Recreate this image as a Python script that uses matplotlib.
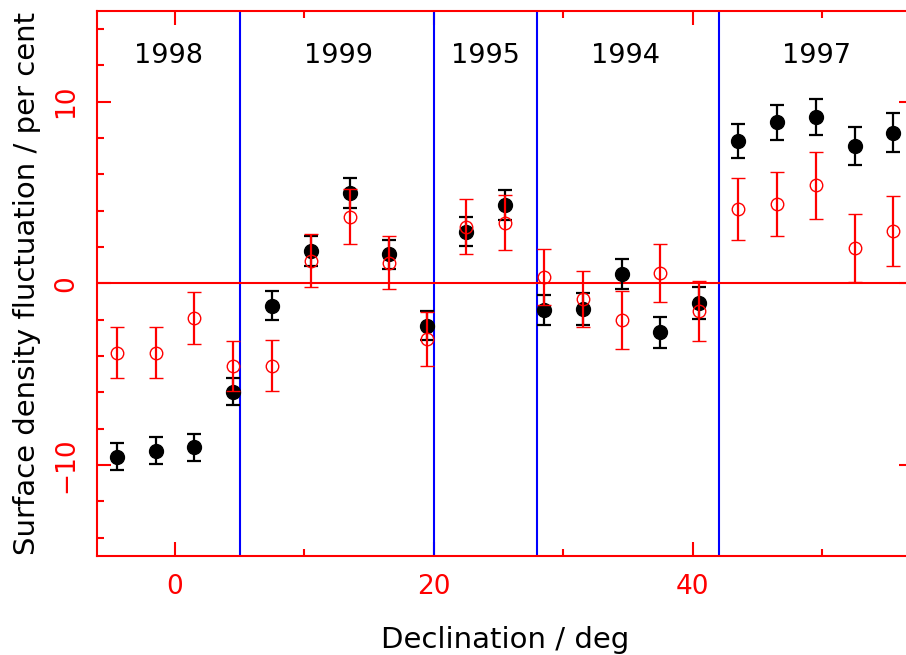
import matplotlib
matplotlib.use('Agg')
import matplotlib.pyplot as plt
from matplotlib.ticker import MultipleLocator

plt.rcParams['font.family'] = ['DejaVu Sans']

# declination bin centres
dec = [-4.5, -1.5, 1.5, 4.5, 7.5, 10.5, 13.5, 16.5, 19.5, 22.5, 25.5,
       28.5, 31.5, 34.5, 37.5, 40.5, 43.5, 46.5, 49.5, 52.5, 55.5]

# filled black points
black_val = [-9.54, -9.21, -9.04, -5.98, -1.23, 1.80, 4.96, 1.60, -2.33, 2.84, 4.31,
             -1.47, -1.43, 0.51, -2.70, -1.07, 7.84, 8.87, 9.14, 7.58, 8.29]
black_err = [0.75, 0.74, 0.74, 0.74, 0.78, 0.83, 0.81, 0.80, 0.80, 0.81, 0.83,
             0.83, 0.89, 0.85, 0.85, 0.89, 0.95, 0.96, 1.00, 1.04, 1.08]

# open red points
red_val = [-3.83, -3.83, -1.93, -4.57, -4.54, 1.25, 3.67, 1.14, -3.07, 3.12, 3.34,
           0.33, -0.86, -2.02, 0.58, -1.53, 4.09, 4.38, 5.40, 1.96, 2.88]
red_err = [1.41, 1.41, 1.44, 1.37, 1.41, 1.45, 1.51, 1.47, 1.48, 1.52, 1.53,
           1.54, 1.56, 1.58, 1.60, 1.65, 1.70, 1.76, 1.84, 1.88, 1.93]

# survey year boundaries and labels
boundaries = [5, 20, 28, 42]
years = ['1998', '1999', '1995', '1994', '1997']
year_x = [-0.5, 12.6, 24.0, 34.8, 49.6]
year_y = 12.5

fig = plt.figure(figsize=(9.06, 6.55), dpi=100)
ax = fig.add_axes([0.1075, 0.1516, 0.9, 0.8318])

ax.errorbar(dec, black_val, yerr=black_err, fmt='o', color='black',
            ms=10, elinewidth=1.6, capsize=5, capthick=1.6, zorder=3)
ax.errorbar(dec, red_val, yerr=red_err, fmt='o', color='red', mfc='none',
            mec='red', ms=9, mew=1.0, elinewidth=1.6, capsize=5.3, capthick=1.6, zorder=4)

for b in boundaries:
    ax.axvline(b, color='blue', lw=1.5, zorder=2)
ax.axhline(0, color='red', lw=1.5, zorder=2)

for yr, xx in zip(years, year_x):
    ax.text(xx, year_y, yr, ha='center', va='center', fontsize=19.5, color='black')

ax.set_xlim(-6, 57)
ax.set_ylim(-15, 15)

ax.xaxis.set_major_locator(MultipleLocator(20))
ax.xaxis.set_minor_locator(MultipleLocator(10))
ax.yaxis.set_major_locator(MultipleLocator(10))
ax.yaxis.set_minor_locator(MultipleLocator(2))

for s in ax.spines.values():
    s.set_color('red')
    s.set_linewidth(1.5)

ax.tick_params(which='both', direction='in', top=True, right=True, color='red',
               width=1.5, labelcolor='red', labelsize=19)
ax.tick_params(which='major', length=10)
ax.tick_params(which='minor', length=5)
ax.tick_params(axis='x', pad=13)
ax.tick_params(axis='y', pad=13)
for lab in ax.get_yticklabels():
    lab.set_rotation(90)
    lab.set_va('center')

ax.set_xlabel('Declination / deg', fontsize=21, labelpad=19)
ax.set_ylabel('Surface density fluctuation / per cent', fontsize=21, labelpad=9)

fig.savefig('out.png', dpi=100)
